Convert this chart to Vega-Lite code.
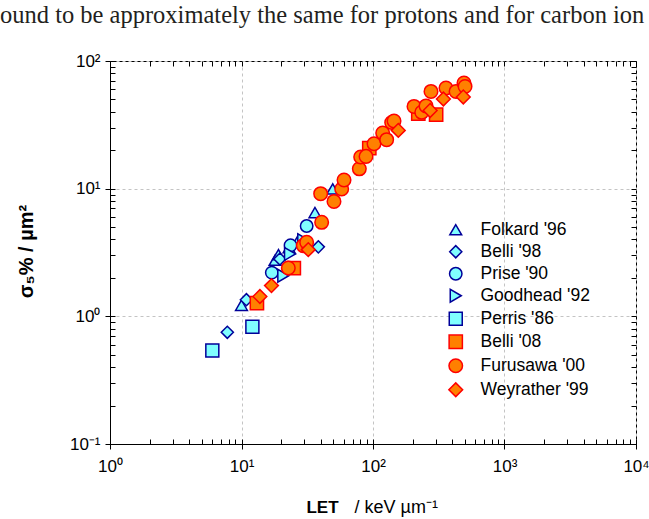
{
  "$schema": "https://vega.github.io/schema/vega-lite/v6.json",
  "width": 526,
  "height": 383,
  "autosize": "none",
  "padding": {"left": 110, "top": 61, "right": 13, "bottom": 75},
  "background": "white",
  "config": {
    "view": {"stroke": "black", "strokeWidth": 1},
    "axis": {"labelFont": "Liberation Sans", "titleFont": "Liberation Sans", "labelColor": "black", "titleColor": "black", "tickColor": "black", "domainColor": "black", "labelFlush": false}
  },
  "title": {
    "text": "ound to be approximately the same for protons and for carbon ion",
    "anchor": "start",
    "frame": "group",
    "dx": -110,
    "offset": 24,
    "font": "Liberation Serif",
    "fontSize": 24.5,
    "fontWeight": "normal",
    "color": "#231f20"
  },
  "data": {
    "values": [
      {"s": "Folkard '96", "x": 10.0, "y": 1.22},
      {"s": "Folkard '96", "x": 18.0, "y": 2.75},
      {"s": "Folkard '96", "x": 19.1, "y": 3.04},
      {"s": "Folkard '96", "x": 23.0, "y": 3.45},
      {"s": "Folkard '96", "x": 27.0, "y": 3.95},
      {"s": "Folkard '96", "x": 36.2, "y": 6.5},
      {"s": "Folkard '96", "x": 49.4, "y": 9.95},
      {"s": "Belli '98", "x": 7.8, "y": 0.75},
      {"s": "Belli '98", "x": 10.9, "y": 1.35},
      {"s": "Belli '98", "x": 19.6, "y": 2.81},
      {"s": "Belli '98", "x": 38.4, "y": 3.5},
      {"s": "Prise '90", "x": 17.0, "y": 2.2},
      {"s": "Prise '90", "x": 23.6, "y": 3.6},
      {"s": "Prise '90", "x": 31.3, "y": 5.1},
      {"s": "Goodhead '92", "x": 20.8, "y": 2.08},
      {"s": "Goodhead '92", "x": 23.4, "y": 3.08},
      {"s": "Goodhead '92", "x": 29.5, "y": 3.95},
      {"s": "Perris '86", "x": 6.0, "y": 0.54},
      {"s": "Perris '86", "x": 12.1, "y": 0.83},
      {"s": "Belli '08", "x": 13.1, "y": 1.27},
      {"s": "Belli '08", "x": 25.0, "y": 2.39},
      {"s": "Belli '08", "x": 93.7, "y": 20.8},
      {"s": "Belli '08", "x": 221, "y": 38.7},
      {"s": "Belli '08", "x": 302, "y": 38.0},
      {"s": "Furusawa '00", "x": 22.7, "y": 2.39},
      {"s": "Furusawa '00", "x": 29.5, "y": 3.58},
      {"s": "Furusawa '00", "x": 31.3, "y": 3.8},
      {"s": "Furusawa '00", "x": 40.7, "y": 5.45},
      {"s": "Furusawa '00", "x": 40.0, "y": 9.14},
      {"s": "Furusawa '00", "x": 50.5, "y": 7.95},
      {"s": "Furusawa '00", "x": 57.8, "y": 9.95},
      {"s": "Furusawa '00", "x": 60.2, "y": 11.7},
      {"s": "Furusawa '00", "x": 78.7, "y": 14.3},
      {"s": "Furusawa '00", "x": 80.6, "y": 17.7},
      {"s": "Furusawa '00", "x": 88.5, "y": 17.9},
      {"s": "Furusawa '00", "x": 101.8, "y": 22.5},
      {"s": "Furusawa '00", "x": 118.5, "y": 27.3},
      {"s": "Furusawa '00", "x": 127, "y": 24.2},
      {"s": "Furusawa '00", "x": 138.7, "y": 33.0},
      {"s": "Furusawa '00", "x": 144.5, "y": 33.9},
      {"s": "Furusawa '00", "x": 205, "y": 44.1},
      {"s": "Furusawa '00", "x": 234.7, "y": 39.6},
      {"s": "Furusawa '00", "x": 253, "y": 44.5},
      {"s": "Furusawa '00", "x": 276, "y": 57.8},
      {"s": "Furusawa '00", "x": 359, "y": 61.5},
      {"s": "Furusawa '00", "x": 428, "y": 57.8},
      {"s": "Furusawa '00", "x": 492, "y": 67.3},
      {"s": "Furusawa '00", "x": 501, "y": 63.2},
      {"s": "Weyrather '99", "x": 13.8, "y": 1.43},
      {"s": "Weyrather '99", "x": 16.9, "y": 1.74},
      {"s": "Weyrather '99", "x": 32.2, "y": 3.33},
      {"s": "Weyrather '99", "x": 155.7, "y": 28.6},
      {"s": "Weyrather '99", "x": 272, "y": 41.0},
      {"s": "Weyrather '99", "x": 343, "y": 50.4},
      {"s": "Weyrather '99", "x": 486, "y": 52.3}
    ]
  },
  "resolve": {"axis": {"x": "independent", "y": "independent"}},
  "layer": [
    {
      "mark": {"type": "point", "filled": false, "strokeWidth": 1.5, "opacity": 1, "fillOpacity": 1},
      "encoding": {
        "x": {
          "field": "x", "type": "quantitative",
          "scale": {"type": "log", "domain": [1, 10000], "nice": false},
          "axis": {
            "orient": "bottom",
            "values": [1, 10, 100, 1000, 10000],
            "labelExpr": "'10' + ['⁻¹','⁰','¹','²','³','⁴'][round(log(datum.value)/LN10)+1]",
            "labelFontSize": 17,
            "labelPadding": 9,
            "tickSize": 5,
            "grid": true, "gridDash": [3, 3], "gridColor": "#c4c4c4",
            "title": "LET",
            "titleFontWeight": "bold",
            "titleFontSize": 17,
            "titleX": 212, "titleY": 68,
            "titleAlign": "center", "titleBaseline": "alphabetic"
          }
        },
        "y": {
          "field": "y", "type": "quantitative",
          "scale": {"type": "log", "domain": [0.1, 100], "nice": false},
          "axis": {
            "orient": "left",
            "values": [0.1, 1, 10, 100],
            "labelExpr": "'10' + ['⁻¹','⁰','¹','²','³','⁴'][round(log(datum.value)/LN10)+1]",
            "labelFontSize": 17,
            "labelPadding": 5,
            "tickSize": 5,
            "grid": true, "gridDash": [3, 3], "gridColor": "#c4c4c4",
            "title": "σ₅%  /  µm²",
            "titleFontWeight": "bold",
            "titleFontSize": 20,
            "titleX": -84, "titleY": 190,
            "titleAlign": "center", "titleBaseline": "middle", "titleAngle": 270
          }
        },
        "shape": {
          "field": "s", "type": "nominal",
          "scale": {
            "domain": ["Folkard '96", "Belli '98", "Prise '90", "Goodhead '92", "Perris '86", "Belli '08", "Furusawa '00", "Weyrather '99"],
            "range": ["triangle-up", "diamond", "circle", "triangle-right", "square", "square", "circle", "diamond"]
          },
          "legend": {
            "orient": "none", "legendX": 337, "legendY": 160,
            "title": null,
            "labelFont": "Liberation Sans", "labelFontSize": 17.5, "labelColor": "black",
            "labelOffset": 16, "rowPadding": 3, "symbolStrokeWidth": 1.5
          }
        },
        "fill": {
          "field": "s", "type": "nominal",
          "scale": {
            "domain": ["Folkard '96", "Belli '98", "Prise '90", "Goodhead '92", "Perris '86", "Belli '08", "Furusawa '00", "Weyrather '99"],
            "range": ["#80ffff", "#80ffff", "#80ffff", "#80ffff", "#80ffff", "#ff8000", "#ff8000", "#ff8000"]
          },
          "legend": {
            "orient": "none", "legendX": 337, "legendY": 160,
            "title": null,
            "labelFont": "Liberation Sans", "labelFontSize": 17.5, "labelColor": "black",
            "labelOffset": 16, "rowPadding": 3, "symbolStrokeWidth": 1.5
          }
        },
        "stroke": {
          "field": "s", "type": "nominal",
          "scale": {
            "domain": ["Folkard '96", "Belli '98", "Prise '90", "Goodhead '92", "Perris '86", "Belli '08", "Furusawa '00", "Weyrather '99"],
            "range": ["#000099", "#000099", "#000099", "#000099", "#000099", "#ff0000", "#ff0000", "#ff0000"]
          },
          "legend": {
            "orient": "none", "legendX": 337, "legendY": 160,
            "title": null,
            "labelFont": "Liberation Sans", "labelFontSize": 17.5, "labelColor": "black",
            "labelOffset": 16, "rowPadding": 3, "symbolStrokeWidth": 1.5
          }
        },
        "size": {
          "field": "s", "type": "nominal",
          "scale": {
            "domain": ["Folkard '96", "Belli '98", "Prise '90", "Goodhead '92", "Perris '86", "Belli '08", "Furusawa '00", "Weyrather '99"],
            "range": [140, 190, 130, 130, 105, 105, 140, 190]
          },
          "legend": {
            "orient": "none", "legendX": 337, "legendY": 160,
            "title": null,
            "labelFont": "Liberation Sans", "labelFontSize": 17.5, "labelColor": "black",
            "labelOffset": 16, "rowPadding": 3, "symbolStrokeWidth": 1.5
          }
        }
      }
    },
    {
      "mark": {"type": "point", "opacity": 0},
      "encoding": {
        "x": {
          "field": "x", "type": "quantitative",
          "scale": {"type": "log", "domain": [1, 10000], "nice": false},
          "axis": {
            "orient": "bottom",
            "values": [1,2,3,4,5,6,7,8,9,10,20,30,40,50,60,70,80,90,100,200,300,400,500,600,700,800,900,1000,2000,3000,4000,5000,6000,7000,8000,9000,10000],
            "labels": false, "domain": false, "grid": false,
            "tickSize": -5,
            "title": "/  keV  µm⁻¹",
            "titleFontWeight": "normal",
            "titleFontSize": 18,
            "titleX": 244, "titleY": 68,
            "titleAlign": "left", "titleBaseline": "alphabetic"
          }
        },
        "y": {
          "field": "y", "type": "quantitative",
          "scale": {"type": "log", "domain": [0.1, 100], "nice": false},
          "axis": {
            "orient": "left",
            "values": [0.1,0.2,0.3,0.4,0.5,0.6,0.7,0.8,0.9,1,2,3,4,5,6,7,8,9,10,20,30,40,50,60,70,80,90,100],
            "labels": false, "domain": false, "grid": false,
            "tickSize": -5, "title": null
          }
        }
      }
    },
    {
      "mark": {"type": "point", "opacity": 0},
      "encoding": {
        "x": {
          "field": "x", "type": "quantitative",
          "scale": {"type": "log", "domain": [1, 10000], "nice": false},
          "axis": {
            "orient": "top",
            "values": [1,2,3,4,5,6,7,8,9,10,20,30,40,50,60,70,80,90,100,200,300,400,500,600,700,800,900,1000,2000,3000,4000,5000,6000,7000,8000,9000,10000],
            "labels": false, "domain": false, "grid": false,
            "tickSize": -5, "title": null
          }
        },
        "y": {
          "field": "y", "type": "quantitative",
          "scale": {"type": "log", "domain": [0.1, 100], "nice": false},
          "axis": {
            "orient": "right",
            "values": [0.1,0.2,0.3,0.4,0.5,0.6,0.7,0.8,0.9,1,2,3,4,5,6,7,8,9,10,20,30,40,50,60,70,80,90,100],
            "labels": false, "domain": false, "grid": false,
            "tickSize": -5, "title": null
          }
        }
      }
    }
  ]
}
